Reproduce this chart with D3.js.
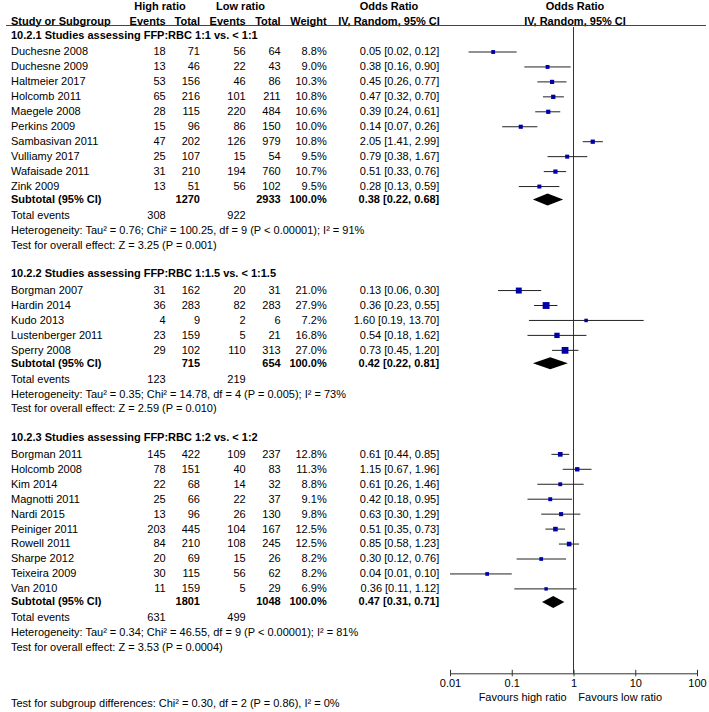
<!DOCTYPE html>
<html><head><meta charset="utf-8">
<script src="https://cdn.jsdelivr.net/npm/d3@7"></script>
<style>
body{margin:0;background:#fff;}
svg{display:block;font-family:"Liberation Sans",Arial,sans-serif;font-size:11px;}
</style></head>
<body>
<script>
// ---------- DATA ----------
const groupTitles = [
  "10.2.1 Studies assessing FFP:RBC 1:1 vs. < 1:1",
  "10.2.2 Studies assessing FFP:RBC 1:1.5 vs. < 1:1.5",
  "10.2.3 Studies assessing FFP:RBC 1:2 vs. < 1:2"
];
const studies1 = ["Duchesne 2008","Duchesne 2009","Haltmeier 2017","Holcomb 2011","Maegele 2008","Perkins 2009","Sambasivan 2011","Vulliamy 2017","Wafaisade 2011","Zink 2009"];
const highEv1 = [18,13,53,65,28,15,47,25,31,13];
const highTot1 = [71,46,156,216,115,96,202,107,210,51];
const lowEv1 = [56,22,46,101,220,86,126,15,194,56];
const lowTot1 = [64,43,86,211,484,150,979,54,760,102];
const weight1 = [8.8,9.0,10.3,10.8,10.6,10.0,10.8,9.5,10.7,9.5];
const or1 = [0.05,0.38,0.45,0.47,0.39,0.14,2.05,0.79,0.51,0.28];
const lo1 = [0.02,0.16,0.26,0.32,0.24,0.07,1.41,0.38,0.33,0.13];
const hi1 = [0.12,0.90,0.77,0.70,0.61,0.26,2.99,1.67,0.76,0.59];

const studies2 = ["Borgman 2007","Hardin 2014","Kudo 2013","Lustenberger 2011","Sperry 2008"];
const highEv2 = [31,36,4,23,29];
const highTot2 = [162,283,9,159,102];
const lowEv2 = [20,82,2,5,110];
const lowTot2 = [31,283,6,21,313];
const weight2 = [21.0,27.9,7.2,16.8,27.0];
const or2 = [0.13,0.36,1.60,0.54,0.73];
const lo2 = [0.06,0.23,0.19,0.18,0.45];
const hi2 = [0.30,0.55,13.70,1.62,1.20];

const studies3 = ["Borgman 2011","Holcomb 2008","Kim 2014","Magnotti 2011","Nardi 2015","Peiniger 2011","Rowell 2011","Sharpe 2012","Teixeira 2009","Van 2010"];
const highEv3 = [145,78,22,25,13,203,84,20,30,11];
const highTot3 = [422,151,68,66,96,445,210,69,115,159];
const lowEv3 = [109,40,14,22,26,104,108,15,56,5];
const lowTot3 = [237,83,32,37,130,167,245,26,62,29];
const weight3 = [12.8,11.3,8.8,9.1,9.8,12.5,12.5,8.2,8.2,6.9];
const or3 = [0.61,1.15,0.61,0.42,0.63,0.51,0.85,0.30,0.04,0.36];
const lo3 = [0.44,0.67,0.26,0.18,0.30,0.35,0.58,0.12,0.01,0.11];
const hi3 = [0.85,1.96,1.46,0.95,1.29,0.73,1.23,0.76,0.10,1.12];

const subHighTot = [1270,715,1801];
const subLowTot = [2933,654,1048];
const subOR = [0.38,0.42,0.47];
const subLo = [0.22,0.22,0.31];
const subHi = [0.68,0.81,0.71];
const totHighEv = [308,123,631];
const totLowEv = [922,219,499];
const heterogeneity = [
  "Heterogeneity: Tau\u00B2 = 0.76; Chi\u00B2 = 100.25, df = 9 (P < 0.00001); I\u00B2 = 91%",
  "Heterogeneity: Tau\u00B2 = 0.35; Chi\u00B2 = 14.78, df = 4 (P = 0.005); I\u00B2 = 73%",
  "Heterogeneity: Tau\u00B2 = 0.34; Chi\u00B2 = 46.55, df = 9 (P < 0.00001); I\u00B2 = 81%"
];
const overallTests = [
  "Test for overall effect: Z = 3.25 (P = 0.001)",
  "Test for overall effect: Z = 2.59 (P = 0.010)",
  "Test for overall effect: Z = 3.53 (P = 0.0004)"
];
const subgroupTest = "Test for subgroup differences: Chi\u00B2 = 0.30, df = 2 (P = 0.86), I\u00B2 = 0%";
const tickValues = [0.01,0.1,1,10,100];
const tickLabels = ["0.01","0.1","1","10","100"];
const favoursLeft = "Favours high ratio";
const favoursRight = "Favours low ratio";

const groups = [
  {studies:studies1,he:highEv1,ht:highTot1,le:lowEv1,lt:lowTot1,w:weight1,or:or1,lo:lo1,hi:hi1},
  {studies:studies2,he:highEv2,ht:highTot2,le:lowEv2,lt:lowTot2,w:weight2,or:or2,lo:lo2,hi:hi2},
  {studies:studies3,he:highEv3,ht:highTot3,le:lowEv3,lt:lowTot3,w:weight3,or:or3,lo:lo3,hi:hi3}
];

// ---------- LAYOUT ----------
const W = 709, H = 712;
const svg = d3.select("body").append("svg").attr("width",W).attr("height",H);
const x = d3.scaleLog().domain([0.01,100]).range([450,697]);
const col = {name:11, he:165.7, ht:200, le:245.7, lt:280.7, w:326.7, or:439.3};
const axisY = 673.3;
const fmt2 = d3.format(".2f");
const orText = (o,l,h)=>`${fmt2(o)} [${fmt2(l)}, ${fmt2(h)}]`;

function txt(xp, yc, s, anchor, bold){
  svg.append("text").attr("x",xp).attr("y",yc+3.9)
    .attr("text-anchor",anchor||"start")
    .attr("font-weight",bold?"bold":"normal")
    .attr("fill","#000").text(s);
}

// header
txt(160,5.7,"High ratio","middle",true);
txt(240.5,5.7,"Low ratio","middle",true);
txt(389,5.7,"Odds Ratio","middle",true);
txt(575,5.7,"Odds Ratio","middle",true);
txt(col.name,20.7,"Study or Subgroup","start",true);
txt(col.he,20.7,"Events","end",true);
txt(col.ht,20.7,"Total","end",true);
txt(col.le,20.7,"Events","end",true);
txt(col.lt,20.7,"Total","end",true);
txt(col.w,20.7,"Weight","end",true);
txt(389,20.7,"IV, Random, 95% CI","middle",true);
txt(575,20.7,"IV, Random, 95% CI","middle",true);
svg.append("line").attr("x1",6).attr("x2",706).attr("y1",25.5).attr("y2",25.5)
  .attr("stroke","#444").attr("stroke-width",1);

// null line
svg.append("line").attr("x1",x(1)).attr("x2",x(1)).attr("y1",27).attr("y2",axisY)
  .attr("stroke","#333").attr("stroke-width",1);

let y = 35;
groups.forEach((g,gi)=>{
  txt(col.name,y,groupTitles[gi],"start",true);
  y += 16.5;
  g.studies.forEach((s,i)=>{
    txt(col.name,y,s);
    txt(col.he,y,g.he[i],"end");
    txt(col.ht,y,g.ht[i],"end");
    txt(col.le,y,g.le[i],"end");
    txt(col.lt,y,g.lt[i],"end");
    txt(col.w,y,g.w[i].toFixed(1)+"%","end");
    txt(col.or,y,orText(g.or[i],g.lo[i],g.hi[i]),"end");
    svg.append("line").attr("x1",x(g.lo[i])).attr("x2",x(g.hi[i]))
      .attr("y1",y+0.5).attr("y2",y+0.5).attr("stroke","#222").attr("stroke-width",1);
    const side = 1.3*Math.sqrt(g.w[i]);
    svg.append("rect").attr("x",x(g.or[i])-side/2).attr("y",y+0.5-side/2)
      .attr("width",side).attr("height",side).attr("fill","#0000a8");
    if(i<g.studies.length-1) y += 14.95;
  });
  y += 13;
  txt(col.name,y,"Subtotal (95% CI)","start",true);
  txt(col.ht,y,subHighTot[gi],"end",true);
  txt(col.lt,y,subLowTot[gi],"end",true);
  txt(col.w,y,"100.0%","end",true);
  txt(col.or,y,orText(subOR[gi],subLo[gi],subHi[gi]),"end",true);
  const cy = y+0.5;
  svg.append("path").attr("d",`M${x(subLo[gi])},${cy} L${x(subOR[gi])},${cy-6} L${x(subHi[gi])},${cy} L${x(subOR[gi])},${cy+6} Z`)
    .attr("fill","#000");
  y += 16;
  txt(col.name,y,"Total events");
  txt(col.he,y,totHighEv[gi],"end");
  txt(col.le,y,totLowEv[gi],"end");
  y += 15;
  txt(col.name,y,heterogeneity[gi]);
  y += 14.7;
  txt(col.name,y,overallTests[gi]);
  y += 28.8;
});

// axis
const axis = d3.axisBottom(x).tickValues(tickValues)
  .tickFormat((d,i)=>tickLabels[i]).tickSizeOuter(0).tickSizeInner(3);
const ag = svg.append("g").attr("transform",`translate(0,${axisY})`).call(axis);
ag.select(".domain").attr("stroke","#333");
ag.selectAll(".tick line").attr("y1",-3.5).attr("y2",3).attr("stroke","#333");
ag.selectAll(".tick text").attr("y",6).attr("dy","0.71em")
  .attr("font-family","'Liberation Sans',Arial,sans-serif").attr("font-size",11).attr("fill","#000");

txt(566.7,696.7,favoursLeft,"end");
txt(578.3,696.7,favoursRight,"start");
txt(col.name,703.3,subgroupTest);
</script>
</body></html>
